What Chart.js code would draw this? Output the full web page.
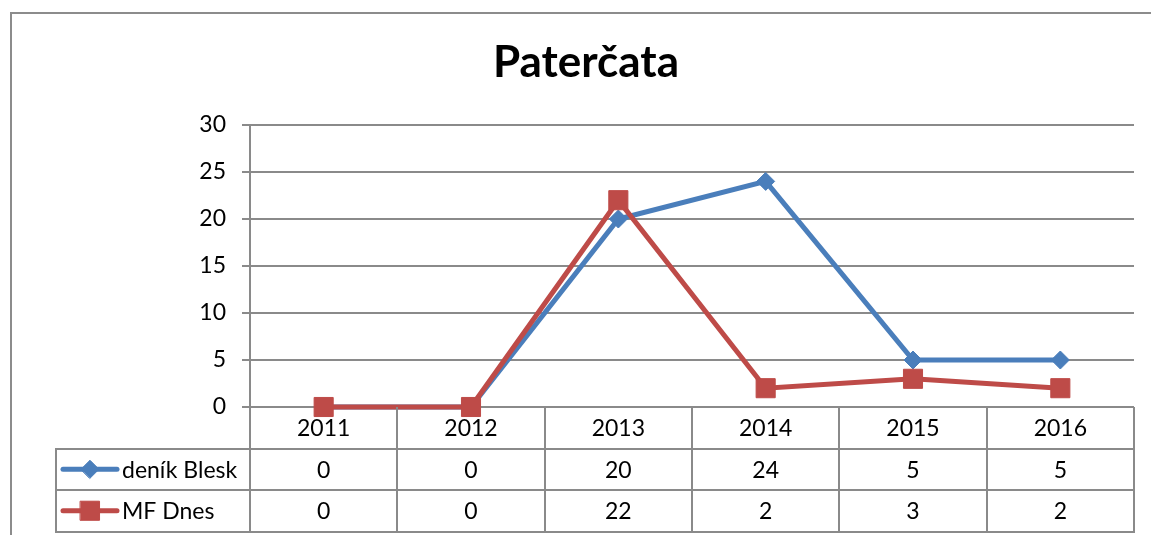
<!DOCTYPE html>
<html><head><meta charset="utf-8">
<script src="https://cdn.jsdelivr.net/npm/chart.js@4"></script>
<style>html,body{margin:0;padding:0;background:#fff}canvas{display:block}</style>
</head><body>
<canvas id="c" width="1151" height="535"></canvas>
<script>
const chartTitle = 'Paterčata';
const years = ['2011', '2012', '2013', '2014', '2015', '2016'];
const seriesNames = ['deník Blesk', 'MF Dnes'];
const blesk = [0, 0, 20, 24, 5, 5];
const mfDnes = [0, 0, 22, 2, 3, 2];
const yMin = 0, yMax = 30, yStep = 5;

const FONT = 'Lato, "Open Sans", sans-serif';
const GRID = '#8a8a8a';
const BLUE = '#4a7ebb';
const RED = '#be4b48';

const frameAndTitle = {
  id: 'frameAndTitle',
  beforeDraw(chart) {
    const ctx = chart.ctx;
    ctx.save();
    ctx.fillStyle = '#fff';
    ctx.fillRect(0, 0, chart.width, chart.height);
    ctx.strokeStyle = '#8c8c8c';
    ctx.lineWidth = 2;
    ctx.beginPath();
    ctx.moveTo(11, chart.height + 2);
    ctx.lineTo(11, 13);
    ctx.lineTo(chart.width + 2, 13);
    ctx.stroke();
    ctx.fillStyle = '#000';
    ctx.font = 'bold 44px ' + FONT;
    ctx.textAlign = 'center';
    ctx.textBaseline = 'alphabetic';
    ctx.fillText(chartTitle, 586, 77);
    ctx.restore();
  }
};

const dataTable = {
  id: 'dataTable',
  afterDraw(chart) {
    const ctx = chart.ctx;
    const area = chart.chartArea;
    const xs = chart.scales.x;
    const top = area.bottom;
    const rowH = 41.5;
    const colW = (area.right - area.left) / years.length;
    const legendLeft = 56;
    ctx.save();
    ctx.strokeStyle = GRID;
    ctx.lineWidth = 2;
    ctx.beginPath();
    for (let i = 0; i <= years.length; i++) {
      const xx = Math.round(area.left + i * colW);
      ctx.moveTo(xx, top);
      ctx.lineTo(xx, top + 3 * rowH);
    }
    ctx.moveTo(legendLeft, top + rowH);
    ctx.lineTo(legendLeft, top + 3 * rowH);
    for (let r = 1; r <= 3; r++) {
      const yy = Math.round(top + r * rowH);
      ctx.moveTo(legendLeft - 1, yy);
      ctx.lineTo(area.right + 1, yy);
    }
    ctx.stroke();

    ctx.fillStyle = '#000';
    ctx.font = '23px ' + FONT;
    ctx.textAlign = 'center';
    ctx.textBaseline = 'middle';
    years.forEach((y, i) => ctx.fillText(y, xs.getPixelForValue(i), top + rowH / 2 + 1));
    chart.data.datasets.forEach((ds, r) => {
      const cy = top + rowH * (r + 1) + rowH / 2;
      ds.data.forEach((v, i) => {
        ctx.fillStyle = '#000';
        ctx.textAlign = 'center';
        ctx.fillText(String(v), xs.getPixelForValue(i), cy + 1);
      });
      // legend swatch
      ctx.strokeStyle = ds.borderColor;
      ctx.lineWidth = ds.borderWidth;
      ctx.lineCap = 'round';
      ctx.beginPath();
      ctx.moveTo(legendLeft + 7, cy);
      ctx.lineTo(legendLeft + 61, cy);
      ctx.stroke();
      ctx.fillStyle = ds.pointBackgroundColor;
      ctx.strokeStyle = ds.pointBorderColor;
      ctx.lineWidth = 1;
      Chart.helpers.drawPoint(ctx, {pointStyle: ds.pointStyle, rotation: 0, radius: ds.pointRadius, borderWidth: 1}, legendLeft + 34, cy);
      ctx.fillStyle = '#000';
      ctx.textAlign = 'left';
      ctx.fillText(seriesNames[r], legendLeft + 66, cy + 1);
    });
    ctx.restore();
  }
};

new Chart(document.getElementById('c'), {
  type: 'line',
  data: {
    labels: years,
    datasets: [
      {
        label: seriesNames[0], data: blesk, order: 1, clip: false,
        borderColor: BLUE, borderWidth: 5, pointStyle: 'rectRot', pointRadius: 9,
        pointBackgroundColor: BLUE, pointBorderColor: BLUE, pointBorderWidth: 1, tension: 0
      },
      {
        label: seriesNames[1], data: mfDnes, order: 0, clip: false,
        borderColor: RED, borderWidth: 5, pointStyle: 'rect', pointRadius: 13.5,
        pointBackgroundColor: RED, pointBorderColor: RED, pointBorderWidth: 1, tension: 0
      }
    ]
  },
  options: {
    responsive: false,
    animation: false,
    devicePixelRatio: 1,
    layout: { padding: { top: 125, right: 17, left: 0, bottom: 0 } },
    plugins: { legend: { display: false }, title: { display: false }, tooltip: { enabled: false } },
    scales: {
      x: {
        offset: true,
        grid: { display: false },
        border: { display: false },
        ticks: { display: false },
        afterFit(s) { s.height = 128; }
      },
      y: {
        min: yMin, max: yMax,
        ticks: { stepSize: yStep, padding: 16, color: '#000', font: { family: FONT, size: 23 } },
        grid: { color: GRID, lineWidth: 2, tickLength: 8 },
        border: { display: true, color: GRID, width: 2 },
        afterFit(s) { s.width = 250; }
      }
    }
  },
  plugins: [frameAndTitle, dataTable]
});
</script>
</body></html>
